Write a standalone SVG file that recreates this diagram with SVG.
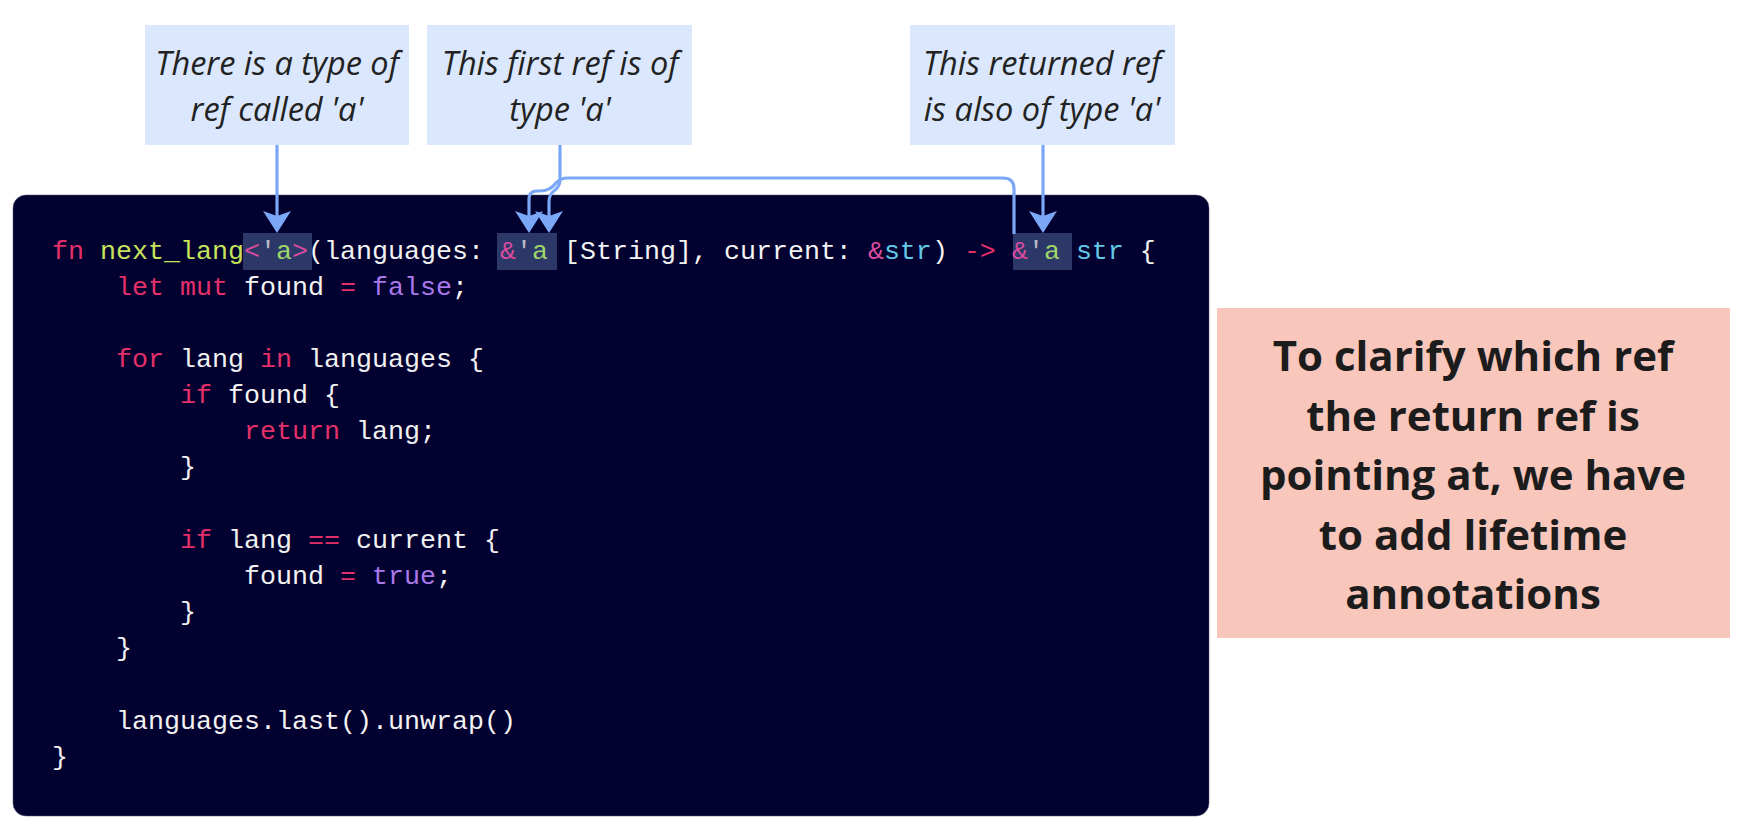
<svg xmlns="http://www.w3.org/2000/svg" width="1744" height="833" viewBox="0 0 1744 833">
<style>
.note{fill:#dae7fc}
.nt{font-family:"Open Sans","Noto Sans",sans-serif;font-style:italic;font-size:32.5px;fill:#222;text-anchor:middle}
.bt{font-family:"Open Sans","Noto Sans",sans-serif;font-weight:bold;font-size:42px;fill:#1c1c1c;text-anchor:middle}
.code{font-family:"Liberation Mono","DejaVu Sans Mono",monospace;font-size:26.67px;fill:#f2f2f2;white-space:pre}
.k{fill:#e3306a}
.m{fill:#d94b9e}
.q{fill:#b8b8c8}
.g{fill:#9fd46c}
.y{fill:#c6e35a}
.c{fill:#62c8e6}
.p{fill:#a978ea}
.hl{fill:#2c3868}
.conn{fill:none;stroke:#7aa8f7;stroke-width:3.2}
</style>
<defs>
<marker id="ah" viewBox="0 0 22 28" refX="5" refY="14" markerWidth="22" markerHeight="28" markerUnits="userSpaceOnUse" orient="auto">
<path d="M0,0 L22,14 L0,28 L5,14 Z" fill="#7aa8f7"/>
</marker>
</defs>
<rect width="1744" height="833" fill="#ffffff"/>

<g id="code-panel">
<rect x="13" y="195" width="1196" height="621" rx="13" fill="#03012f" stroke="#55557a" stroke-width="1" stroke-opacity="0.5"/>
<rect class="hl" x="243" y="233" width="69" height="37"/>
<rect class="hl" x="497" y="233" width="60" height="37"/>
<rect class="hl" x="1013" y="233" width="59" height="37"/>
<text class="code" x="52" y="258.5"><tspan class="k">fn</tspan> <tspan class="y">next_lang</tspan><tspan class="m">&lt;</tspan><tspan class="q">'</tspan><tspan class="g">a</tspan><tspan class="m">&gt;</tspan>(languages: <tspan class="m">&amp;</tspan><tspan class="q">'</tspan><tspan class="g">a</tspan> [String], current: <tspan class="m">&amp;</tspan><tspan class="c">str</tspan>) <tspan class="k">-&gt;</tspan> <tspan class="m">&amp;</tspan><tspan class="q">'</tspan><tspan class="g">a</tspan> <tspan class="c">str</tspan> {</text>
<text class="code" x="116" y="294.7"><tspan class="k">let</tspan> <tspan class="k">mut</tspan> found <tspan class="k">=</tspan> <tspan class="p">false</tspan>;</text>
<text class="code" x="116" y="367"><tspan class="k">for</tspan> lang <tspan class="k">in</tspan> languages {</text>
<text class="code" x="180" y="403.1"><tspan class="k">if</tspan> found {</text>
<text class="code" x="244" y="439.3"><tspan class="k">return</tspan> lang;</text>
<text class="code" x="180" y="475.4">}</text>
<text class="code" x="180" y="547.7"><tspan class="k">if</tspan> lang <tspan class="k">==</tspan> current {</text>
<text class="code" x="244" y="583.9">found <tspan class="k">=</tspan> <tspan class="p">true</tspan>;</text>
<text class="code" x="180" y="620">}</text>
<text class="code" x="116" y="656.2">}</text>
<text class="code" x="116" y="728.6">languages.last().unwrap()</text>
<text class="code" x="52" y="764.7">}</text>
</g>

<g id="note-type">
<rect class="note" x="145" y="25" width="264" height="120"/>
<text class="nt" x="277" y="75">There is a type of</text>
<text class="nt" x="277" y="121">ref called 'a'</text>
</g>

<g id="note-first">
<rect class="note" x="427" y="25" width="265" height="120"/>
<text class="nt" x="560" y="75">This first ref is of</text>
<text class="nt" x="560" y="121">type 'a'</text>
</g>

<g id="note-returned">
<rect class="note" x="910" y="25" width="265" height="120"/>
<text class="nt" x="1042" y="75">This returned ref</text>
<text class="nt" x="1042" y="121">is also of type 'a'</text>
</g>

<g id="note-clarify">
<rect x="1217" y="308" width="513" height="330" fill="#f8c6bb"/>
<text class="bt" x="1473" y="371">To clarify which ref</text>
<text class="bt" x="1473" y="430.5">the return ref is</text>
<text class="bt" x="1473" y="490">pointing at, we have</text>
<text class="bt" x="1473" y="549.5">to add lifetime</text>
<text class="bt" x="1473" y="609">annotations</text>
</g>

<g id="connectors">
<path class="conn" d="M277,145 V216" marker-end="url(#ah)"/>
<path class="conn" d="M1043,145 V216" marker-end="url(#ah)"/>
<path class="conn" d="M560,145 V179 Q560,186 555,190 Q549,194 549,202 V216" marker-end="url(#ah)"/>
<path class="conn" d="M1014,234 V189 Q1014,178 1003,178 H568 Q560,178 556,183 Q550,191 540,191 H537 Q529,191 529,199 V216" marker-end="url(#ah)"/>
</g>
</svg>
